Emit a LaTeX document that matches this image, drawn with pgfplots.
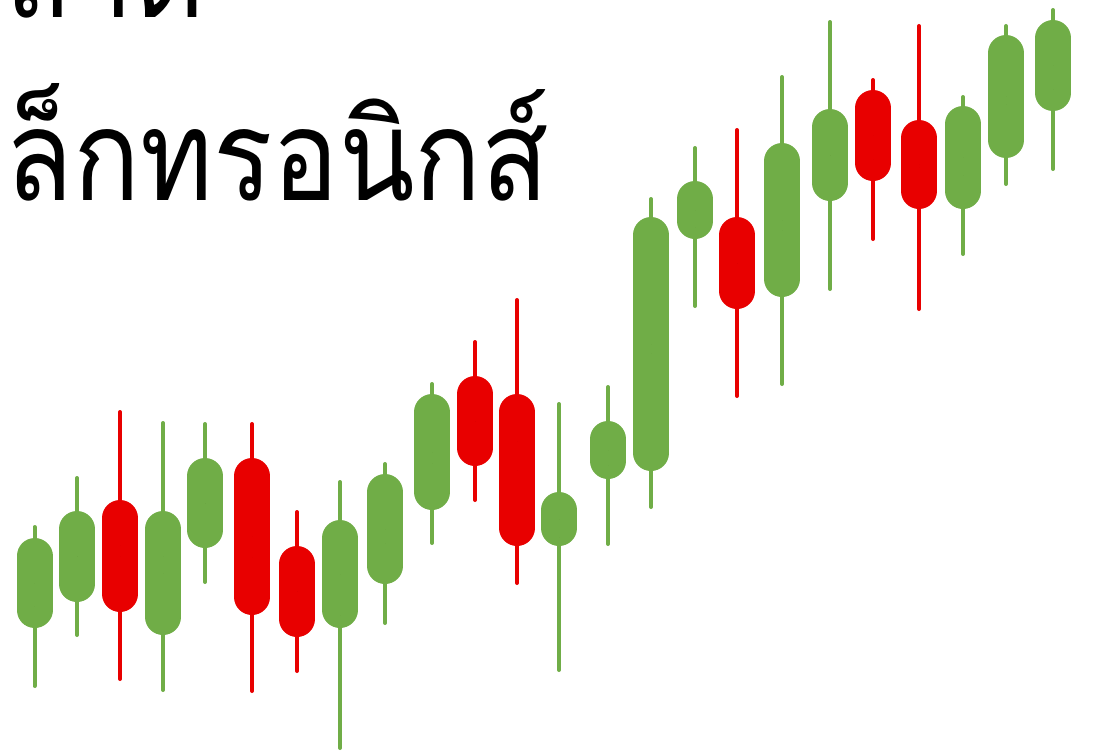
\documentclass[border=0pt]{standalone}
\usepackage{fontspec}
\usepackage{pgfplots}
\usepackage{pgfplotstable}
\pgfplotsset{compat=1.18}
\newfontfamily\thaifont[Script=Thai]{Loma}
\definecolor{upgreen}{HTML}{70AD47}
\definecolor{downred}{HTML}{E80000}

% candles: position, open, high, low, close (1 unit = 1 px of the reference)
\pgfplotstableread{
x o h l c
34.5 127 230 67 217
77 153 279 118 244
163 120 334 63 244
205 207 333 171 297
340 127 275 5 235
385 171 293 130 281
432 245 373 210 361
559 209 353 83 263
608 276 370 209 334
651 284 558 246 538
695 516 609 447 574
782 458 680 369 612
830 554 735 464 646
963 546 660 499 649
1006 597 731 569 720
1053 644 747 584 735
}\upcandles
\pgfplotstableread{
x o h l c
120 255 345 74 143
252 297 333 62 140
297 209 245 82 118
475 379 415 253 289
517 361 457 170 209
737 538 627 357 446
873 665 677 514 574
919 635 731 444 546
}\downcandles

\pgfplotsset{
    wick/.style={only marks, mark=*, mark size=0pt, mark options={draw=none, fill=none},
        error bars/.cd, y dir=both, y explicit, error mark=none,
        error bar style={line width=0.4mm, line cap=round, #1}},
    body/.style={only marks, mark=*, mark size=0pt, mark options={draw=none, fill=none},
        error bars/.cd, y dir=both, y explicit, error mark=none,
        error bar style={line width=3.6mm, line cap=round, #1}},
}

\begin{document}
\begin{tikzpicture}
\useasboundingbox (0,0) rectangle (109.4mm,75.5mm);
\clip (0,0) rectangle (109.4mm,75.5mm);
\begin{axis}[
    at={(0,0)}, anchor=south west,
    scale only axis,
    width=109.4mm, height=75.5mm,
    xmin=0, xmax=1094,
    ymin=0, ymax=755,
    hide axis,
    clip=false,
]
% wicks
\addplot[wick=upgreen] table[x=x, y expr={(\thisrow{h}+\thisrow{l})/2},
    y error expr={(\thisrow{h}-\thisrow{l})/2 - 2}] {\upcandles};
\addplot[wick=downred] table[x=x, y expr={(\thisrow{h}+\thisrow{l})/2},
    y error expr={(\thisrow{h}-\thisrow{l})/2 - 2}] {\downcandles};
% bodies (round caps add 18 units at each end)
\addplot[body=upgreen] table[x=x, y expr={(\thisrow{o}+\thisrow{c})/2},
    y error expr={abs(\thisrow{c}-\thisrow{o})/2 - 18}] {\upcandles};
\addplot[body=downred] table[x=x, y expr={(\thisrow{o}+\thisrow{c})/2},
    y error expr={abs(\thisrow{c}-\thisrow{o})/2 - 18}] {\downcandles};
\end{axis}
\node[anchor=base east, inner sep=0pt, xscale=0.875, font=\thaifont\fontsize{36}{40}\selectfont]
    at (20.6mm,73.8mm) {ตลาด};
\node[anchor=base east, inner sep=0pt, xscale=0.875, font=\thaifont\fontsize{36}{40}\selectfont]
    at (55.0mm,55.5mm) {อิเล็กทรอนิกส์};
\end{tikzpicture}
\end{document}
